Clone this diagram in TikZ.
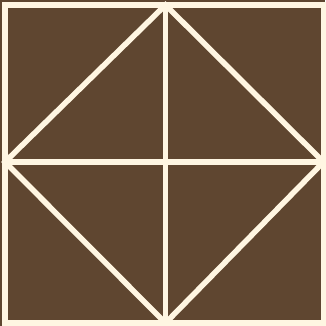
\documentclass[tikz,border=0pt]{standalone}
\usepackage{tikz}
\definecolor{boardbrown}{RGB}{95,70,48}
\definecolor{linecream}{RGB}{255,246,226}
\tikzset{
  boardline/.style={draw=linecream,line width=5.5pt,line cap=rect,line join=miter}
}
\begin{document}
\begin{tikzpicture}[x=1pt,y=-1pt]
  \fill[boardbrown] (0,0) rectangle (325,326);
  \useasboundingbox (0,0) rectangle (325,326);
  % corners and side midpoints
  \coordinate (tl) at (5,5);
  \coordinate (tr) at (323.5,5);
  \coordinate (bl) at (5,323);
  \coordinate (br) at (323.5,323);
  \coordinate (top) at (165.5,5);
  \coordinate (bottom) at (165.5,323);
  \coordinate (left) at (5,162);
  \coordinate (right) at (323.5,162);
  % frame, cross and diamond
  \draw[boardline] (tl) rectangle (br);
  \draw[boardline] (top) -- (bottom);
  \draw[boardline] (left) -- (right);
  \draw[boardline] (top) -- (right) -- (bottom) -- (left) -- cycle;
\end{tikzpicture}
\end{document}
